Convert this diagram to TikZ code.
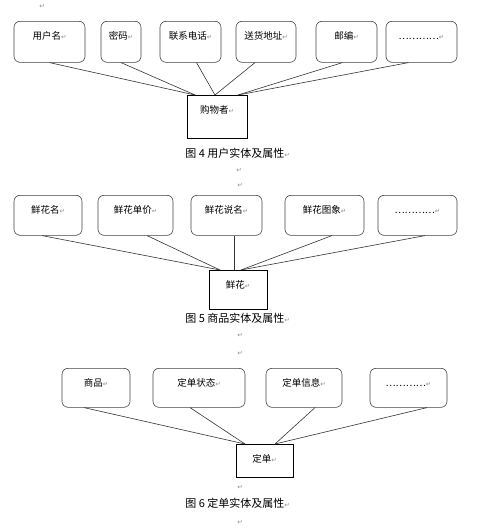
\documentclass[tikz,border=0pt]{standalone}
\usepackage{fontspec}
\setmainfont{Noto Sans CJK SC}
\newfontfamily\retfont{DejaVu Sans}
\newcommand{\ret}{{\retfont\fontsize{6.5}{7}\selectfont\color{black!45}↵}}
\begin{document}
\begin{tikzpicture}[x=1pt,y=-1pt,line width=0.6pt,
    attr/.style={rectangle,draw=black!75,rounded corners=6pt,anchor=north,inner xsep=0pt,inner ysep=9pt,
        text height=9pt,text depth=#1,font=\fontsize{9.5}{10}\selectfont},
    ent/.style={rectangle,draw,anchor=north,inner xsep=0pt,inner ysep=9pt,
        text height=9pt,text depth=#1,font=\fontsize{9.5}{10}\selectfont},
    figcap/.style={anchor=base west,inner sep=0pt,font=\fontsize{11}{12}\selectfont},
    retmark/.style={inner sep=0pt}]
        \useasboundingbox (0,0) rectangle (499,530);
        \node at (42,6) [retmark] (m1) {\ret};
        % figure 4
        \node at (49.5,21) [attr=14pt,minimum width=71pt] (a1) {用户名\ret};
        \node at (121,21) [attr=14pt,minimum width=40pt] (a2) {密码\ret};
        \node at (190.5,21) [attr=14pt,minimum width=61pt] (a3) {联系电话\ret};
        \node at (266,21) [attr=14pt,minimum width=60pt] (a4) {送货地址\ret};
        \node at (346.5,21) [attr=14pt,minimum width=61pt] (a5) {邮编\ret};
        \node at (421.5,21) [attr=14pt,minimum width=71pt] (a6) {…………\ret};
        \node at (217,95) [ent=16pt,minimum width=60pt] (buyer) {购物者\ret};
        \draw[black!80] (a1.south) -- ([xshift=-22pt]buyer.north);
        \draw[black!80] (a2.south) -- ([xshift=-22pt]buyer.north);
        \draw[black!80] ([xshift=6pt]a3.south) -- ([xshift=-2pt]buyer.north);
        \draw[black!80] ([xshift=-11pt]a4.south) -- ([xshift=-2pt]buyer.north);
        \draw[black!80] ([xshift=-4pt]a5.south) -- ([xshift=21pt]buyer.north);
        \draw[black!80] ([xshift=-13pt]a6.south) -- ([xshift=21pt]buyer.north);
        \node at (185,157) [figcap] (c1) {图 4 用户实体及属性\ret};
        \node at (239,170) [retmark] (m2) {\ret};
        % figure 5
        \node at (240,185) [retmark] (m3) {\ret};
        \node at (48,195) [attr=13pt,minimum width=68pt] (b1) {鲜花名\ret};
        \node at (135.5,195) [attr=13pt,minimum width=75pt] (b2) {鲜花单价\ret};
        \node at (226.5,195) [attr=13pt,minimum width=71pt] (b3) {鲜花说名\ret};
        \node at (324.5,195) [attr=13pt,minimum width=79pt] (b4) {鲜花图象\ret};
        \node at (417.5,195) [attr=13pt,minimum width=79pt] (b5) {…………\ret};
        \node at (238,270) [ent=12pt,minimum width=58pt] (flower) {鲜花\ret};
        \draw[black!80] ([xshift=-6pt]b1.south) -- ([xshift=-18pt]flower.north);
        \draw[black!80] ([xshift=11.5pt]b2.south) -- ([xshift=-18pt]flower.north);
        \draw[black!80] ([xshift=7.5pt]b3.south) -- ([xshift=-4pt]flower.north);
        \draw[black!80] ([xshift=7.5pt]b4.south) -- ([xshift=3pt]flower.north);
        \draw[black!80] ([xshift=7.5pt]b5.south) -- ([xshift=3pt]flower.north);
        \node at (185,322) [figcap] (c2) {图 5 商品实体及属性\ret};
        \node at (240,335) [retmark] (m4) {\ret};
        % figure 6
        \node at (240,353) [retmark] (m5) {\ret};
        \node at (96,368) [attr=12pt,minimum width=68pt] (d1) {商品\ret};
        \node at (199,368) [attr=12pt,minimum width=92pt] (d2) {定单状态\ret};
        \node at (304,368) [attr=12pt,minimum width=76pt] (d3) {定单信息\ret};
        \node at (408.5,368) [attr=12pt,minimum width=77pt] (d4) {…………\ret};
        \node at (264.5,444) [ent=6pt,minimum width=57pt] (order) {定单\ret};
        \draw[black!80] ([xshift=-12pt]d1.south) -- ([xshift=-19.5pt]order.north);
        \draw[black!80] ([xshift=-9pt]d2.south) -- ([xshift=-19.5pt]order.north);
        \draw[black!80] ([xshift=11pt]d3.south) -- ([xshift=10.5pt]order.north);
        \draw[black!80] ([xshift=18.5pt]d4.south) -- ([xshift=10.5pt]order.north);
        \node at (240,487) [retmark] (m6) {\ret};
        \node at (185,507) [figcap] (c3) {图 6 定单实体及属性\ret};
        \node at (240,522) [retmark] (m7) {\ret};
\end{tikzpicture}
\end{document}
